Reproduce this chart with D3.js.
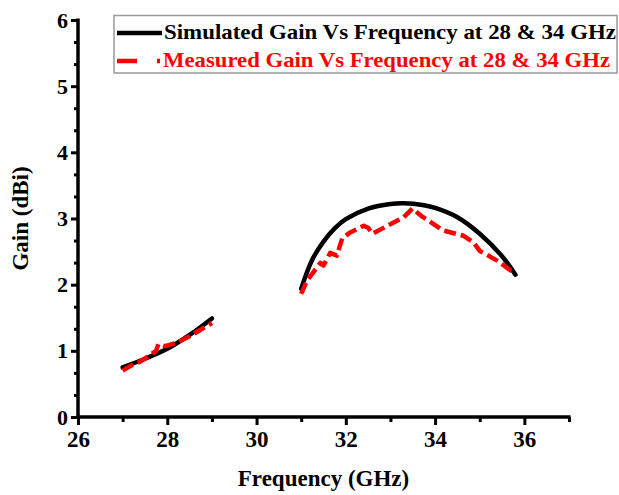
<!doctype html>
<html lang="en">
<head>
  <meta charset="utf-8">
  <title>Gain vs Frequency</title>
  <script src="https://d3js.org/d3.v7.min.js"></script>
  <style>
    html, body { margin: 0; padding: 0; background: #fff; }
    svg { display: block; }
    svg text { font-family: "Liberation Serif", "Times New Roman", Times, "DejaVu Serif", serif !important; font-weight: bold; }
  </style>
</head>
<body>
<svg id="chart" width="619" height="495"></svg>
<script>
// simulated gain, two bands
const simFreq1 = [27, 27.5, 28, 28.5, 29];
const simGain1 = [0.75, 0.88, 1.03, 1.24, 1.49];
const simFreq2 = [31, 31.25, 31.5, 31.75, 32, 32.5, 33, 33.3, 33.75, 34, 34.5, 35, 35.5, 35.8];
const simGain2 = [1.94, 2.38, 2.65, 2.85, 2.99, 3.15, 3.22, 3.23, 3.2, 3.16, 3.02, 2.77, 2.43, 2.15];

// measured gain, two bands
const measFreq1 = [27, 27.2, 27.4, 27.6, 27.75, 27.8, 27.95, 28.2, 28.5, 28.7, 29];
const measGain1 = [0.70, 0.78, 0.84, 0.93, 1.0, 1.1, 1.07, 1.12, 1.22, 1.3, 1.42];
const measFreq2 = [31, 31.13, 31.43, 31.5, 31.65, 31.8, 31.92, 32.1, 32.4, 32.5, 32.6, 32.93, 33.3, 33.49, 33.73, 34.18, 34.63, 34.86, 35.0, 35.4, 35.7, 35.8];
const measGain2 = [1.86, 2.06, 2.33, 2.29, 2.48, 2.44, 2.7, 2.79, 2.89, 2.86, 2.77, 2.89, 3.02, 3.15, 3.02, 2.82, 2.74, 2.64, 2.51, 2.36, 2.21, 2.18];

const xMajor = [26, 28, 30, 32, 34, 36];
const xMinor = [27, 29, 31, 33, 35, 37];
const yMajor = [0, 1, 2, 3, 4, 5, 6];
const yMinor = [1/3, 2/3, 4/3, 5/3, 7/3, 8/3, 10/3, 11/3, 13/3, 14/3, 16/3, 17/3];

const legendLabels = ["Simulated Gain Vs Frequency at 28 & 34 GHz", "Measured Gain Vs Frequency at 28 & 34 GHz"];

const svg = d3.select("#chart");
const x = d3.scaleLinear().domain([26, 37]).range([78, 569]);
const y = d3.scaleLinear().domain([0, 6]).range([417, 20]);

const zip = (xs, ys) => xs.map((v, i) => [v, ys[i]]);

// axes
const xAxis = svg.append("g").attr("transform", "translate(0," + y(0) + ")");
xAxis.call(d3.axisBottom(x).tickValues(xMajor).tickSize(8).tickPadding(6).tickFormat(d3.format("d")));
xAxis.append("g").call(d3.axisBottom(x).tickValues(xMinor).tickSize(5).tickFormat(""));
xAxis.selectAll(".domain").remove();
xAxis.selectAll("line").attr("stroke", "#000").attr("stroke-width", 3);
xAxis.selectAll("text").attr("font-size", 23).attr("font-weight", "bold").attr("fill", "#000");
xAxis.append("line").attr("x1", x(26) - 1.5).attr("x2", x(37) + 1.5).attr("stroke", "#000").attr("stroke-width", 3.5);

const yAxis = svg.append("g").attr("transform", "translate(" + x(26) + ",0)");
yAxis.call(d3.axisLeft(y).tickValues(yMajor).tickSize(7).tickPadding(3).tickFormat(d3.format("d")));
yAxis.append("g").call(d3.axisLeft(y).tickValues(yMinor).tickSize(4).tickFormat(""));
yAxis.selectAll(".domain").remove();
yAxis.selectAll("line").attr("stroke", "#000").attr("stroke-width", 3);
yAxis.selectAll("text").attr("font-size", 22).attr("font-weight", "bold").attr("fill", "#000");
yAxis.append("line").attr("y1", y(6) - 1.5).attr("y2", y(0) + 1.5).attr("stroke", "#000").attr("stroke-width", 3.5);

// axis titles
svg.append("text").attr("x", (x(26) + x(37)) / 2).attr("y", 486)
  .attr("text-anchor", "middle").attr("font-size", 23).text("Frequency (GHz)");
svg.append("text").attr("transform", "translate(28," + ((y(0) + y(6)) / 2) + ") rotate(-90)")
  .attr("text-anchor", "middle").attr("font-size", 23).text("Gain (dBi)");

// curves
const smooth = d3.line().x(d => x(d[0])).y(d => y(d[1])).curve(d3.curveCatmullRom);
const straight = d3.line().x(d => x(d[0])).y(d => y(d[1]));

[zip(simFreq1, simGain1), zip(simFreq2, simGain2)].forEach(seg => {
  svg.append("path").attr("d", smooth(seg)).attr("fill", "none")
    .attr("stroke", "#000").attr("stroke-width", 4.5).attr("stroke-linecap", "round");
});
[zip(measFreq1, measGain1), zip(measFreq2, measGain2)].forEach(seg => {
  svg.append("path").attr("d", straight(seg)).attr("fill", "none")
    .attr("stroke", "#ff0000").attr("stroke-width", 4.5).attr("stroke-dasharray", "12,5")
    .attr("stroke-linejoin", "round");
});

// legend
const lg = svg.append("g");
lg.append("rect").attr("x", 114).attr("y", 15.5).attr("width", 503).attr("height", 57.5)
  .attr("fill", "#fff").attr("stroke", "#999").attr("stroke-width", 1.5);
lg.append("line").attr("x1", 117).attr("x2", 162).attr("y1", 33).attr("y2", 33)
  .attr("stroke", "#000").attr("stroke-width", 4.5);
lg.append("line").attr("x1", 117).attr("x2", 160).attr("y1", 61).attr("y2", 61)
  .attr("stroke", "#ff0000").attr("stroke-width", 4.5).attr("stroke-dasharray", "20,20");
lg.append("text").attr("x", 164).attr("y", 39).attr("font-size", 21).attr("fill", "#000")
  .attr("textLength", 452).attr("lengthAdjust", "spacingAndGlyphs").text(legendLabels[0]);
lg.append("text").attr("x", 163).attr("y", 67).attr("font-size", 21).attr("fill", "#ff0000")
  .attr("textLength", 447).attr("lengthAdjust", "spacingAndGlyphs").text(legendLabels[1]);
</script>
</body>
</html>
